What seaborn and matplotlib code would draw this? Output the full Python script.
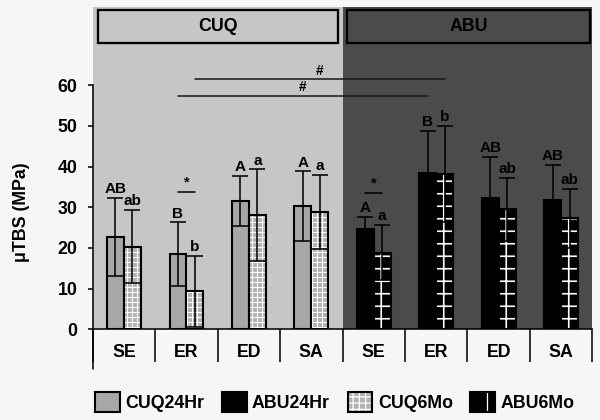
import numpy as np
import pandas as pd
import matplotlib
matplotlib.use("Agg")
import matplotlib.pyplot as plt
import seaborn as sns
from matplotlib.patches import Rectangle, Patch

# ---------------- data ----------------
categories = ["SE", "ER", "ED", "SA"]
groups = ["CUQ", "ABU"]
times = ["24Hr", "6Mo"]

cuq_24hr = [22.7, 18.5, 31.5, 30.3]
cuq_24hr_sd = [9.6, 7.8, 6.2, 8.5]
cuq_6mo = [20.3, 9.3, 28.0, 28.8]
cuq_6mo_sd = [9.0, 8.7, 11.3, 9.1]
abu_24hr = [24.6, 38.5, 32.3, 31.9]
abu_24hr_sd = [3.1, 10.3, 10.1, 8.5]
abu_6mo = [18.8, 38.2, 29.5, 27.3]
abu_6mo_sd = [6.8, 11.8, 7.8, 7.2]

cuq_24hr_letters = ["AB", "B", "A", "A"]
cuq_6mo_letters = ["ab", "b", "a", "a"]
abu_24hr_letters = ["A", "B", "AB", "AB"]
abu_6mo_letters = ["a", "b", "ab", "ab"]

yticks = [0, 10, 20, 30, 40, 50, 60]
legend_labels = ["CUQ24Hr", "ABU24Hr", "CUQ6Mo", "ABU6Mo"]
ylabel = "μTBS (MPa)"

# ---------------- table ----------------
series = {
    ("CUQ", "24Hr"): (cuq_24hr, cuq_24hr_sd, cuq_24hr_letters),
    ("CUQ", "6Mo"): (cuq_6mo, cuq_6mo_sd, cuq_6mo_letters),
    ("ABU", "24Hr"): (abu_24hr, abu_24hr_sd, abu_24hr_letters),
    ("ABU", "6Mo"): (abu_6mo, abu_6mo_sd, abu_6mo_letters),
}
keys = [f"{g} {c}" for g in groups for c in categories]
rows = []
for g in groups:
    for t in times:
        m, s, l = series[(g, t)]
        for c, mv, sv, lv in zip(categories, m, s, l):
            rows.append(dict(key=f"{g} {c}", group=g, cat=c, time=t,
                             value=mv, sd=sv, letter=lv))
df = pd.DataFrame(rows)

# ---------------- style ----------------
sns.set_theme(style="white")
FONT = ["Liberation Sans", "DejaVu Sans"]
plt.rcParams["font.family"] = FONT
plt.rcParams["font.weight"] = "bold"
plt.rcParams["hatch.linewidth"] = 0.6
for k in ["text.color", "axes.labelcolor", "xtick.color", "ytick.color"]:
    plt.rcParams[k] = "black"

LIGHT_BG = "#c6c6c6"
DARK_BG = "#4b4b4b"
CUQ_BAR = "#a7a7a7"
CUQ6_BAR = "#b2b2b2"
ABU_BAR = "#000000"
FIG_BG = "#f6f6f6"
LW = 0.75

fig = plt.figure(figsize=(4, 2.8), dpi=150, facecolor=FIG_BG)
ax = fig.add_axes([0.1545, 0.216, 0.8327, 0.767])

ax.axvspan(-0.5, 3.5, color=LIGHT_BG, zorder=0, lw=0)
ax.axvspan(3.5, 7.5, color=DARK_BG, zorder=0, lw=0)

sns.barplot(data=df, x="key", y="value", hue="time", order=keys,
            hue_order=times, palette=[CUQ_BAR, CUQ_BAR], width=0.54,
            gap=0, errorbar=None, edgecolor="black", linewidth=1.0,
            legend=False, ax=ax, zorder=2)

bars = {t: list(cont) for t, cont in zip(times, ax.containers)}
centers = {t: [p.get_x() + p.get_width() / 2 for p in bars[t]] for t in times}

for t in times:
    for i, p in enumerate(bars[t]):
        g = groups[i // len(categories)]
        if g == "CUQ":
            fc = CUQ_BAR if t == "24Hr" else CUQ6_BAR
        else:
            fc = ABU_BAR
        p.set_facecolor(fc)
        if t == "6Mo":
            p.set_edgecolor("white")
            p.set_linewidth(0)
            p.set_hatch("+++++" if g == "CUQ" else "++")
            try:
                p.set_hatch_linewidth(0.5 if g == "CUQ" else 0.8)
            except AttributeError:
                pass
            ax.add_patch(Rectangle(p.get_xy(), p.get_width(), p.get_height(),
                                   fill=False, edgecolor="black", lw=1.0,
                                   zorder=2.5))

# error bars and letters
for t in times:
    sub = df[df.time == t].set_index("key").loc[keys]
    ax.errorbar(centers[t], sub["value"], yerr=sub["sd"], fmt="none",
                ecolor="black", elinewidth=LW, capsize=3.8, capthick=LW,
                zorder=4)
    for x, v, s, lt in zip(centers[t], sub["value"], sub["sd"], sub["letter"]):
        ax.annotate(lt, (x, v + s), xytext=(0, 0.8), textcoords="offset points",
                    ha="center", va="bottom", fontsize=7.3, fontweight="bold",
                    color="black", zorder=5)

# significance marks (*) between times within a category
for idx, yv in [(1, 33.7), (4, 33.6)]:
    x0, x1 = centers["24Hr"][idx], centers["6Mo"][idx]
    ax.plot([x0, x1], [yv, yv], color="black", lw=LW, zorder=5)
    ax.text((x0 + x1) / 2, yv + 0.6, "*", ha="center", va="bottom",
            fontsize=7, fontweight="bold", zorder=5)

# '#' marks between materials (ER)
for t, yv in [("6Mo", 61.5), ("24Hr", 57.4)]:
    x0, x1 = centers[t][1], centers[t][5]
    ax.plot([x0, x1], [yv, yv], color="#1a1a1a", lw=LW, zorder=5)
    ax.text((x0 + x1) / 2, yv + 0.4, "#", ha="center", va="bottom",
            fontsize=6.5, fontweight="bold", zorder=5)

# axes limits / spines
ax.set_xlim(-0.5, 7.5)
ax.set_ylim(0, 79.2)
for s in ["top", "right"]:
    ax.spines[s].set_visible(False)
ax.spines["left"].set_bounds(0, 60)
for s in ["left", "bottom"]:
    ax.spines[s].set_color("black")
    ax.spines[s].set_linewidth(LW)
    ax.spines[s].set_zorder(6)

ax.set_yticks(yticks)
ax.set_yticklabels([str(v) for v in yticks])
ax.tick_params(axis="y", length=2.3, width=LW, color="black", pad=5,
               labelsize=8.5, left=True, direction="out", labelcolor="black")

ax.set_xticks(np.arange(-0.5, len(keys), 1.0))
ax.set_xticklabels([])
ax.set_xticks(np.arange(len(keys)), minor=True)
ax.set_xticklabels(categories * len(groups), minor=True)
ax.tick_params(axis="x", which="major", length=16, width=LW, color="black",
               bottom=True, direction="out")
ax.tick_params(axis="x", which="minor", length=0, pad=7, labelsize=8.5,
               labelcolor="black")
ax.plot([-0.5, -0.5], [0, -0.123], color="black", lw=LW, clip_on=False,
        transform=ax.get_xaxis_transform(), zorder=6)
ax.set_xlabel("")

ax.set_ylabel(ylabel, fontsize=8.5, fontweight="bold", color="black")
ax.yaxis.set_label_coords(-0.1255, 0.364)

# group headers
for g, x0, x1, fc in [("CUQ", -0.41, 3.43, LIGHT_BG), ("ABU", 3.57, 7.46, DARK_BG)]:
    ax.add_patch(Rectangle((x0, 70.4), x1 - x0, 8.2, facecolor=fc,
                           edgecolor="black", lw=1.1, zorder=5, clip_on=False))
    ax.text((x0 + x1) / 2, 74.5, g, ha="center", va="center", fontsize=8.5,
            fontweight="bold", color="black", zorder=6)

# legend
h_cuq24 = Patch(facecolor=CUQ_BAR, edgecolor="black", lw=1.0)
h_abu24 = Patch(facecolor=ABU_BAR, edgecolor="black", lw=1.0)
h_cuq6 = (Patch(facecolor=CUQ6_BAR, edgecolor="white", hatch="++++", lw=0),
          Patch(fill=False, edgecolor="black", lw=1.0))
h_abu6 = (Patch(facecolor=ABU_BAR, edgecolor="white", hatch="+", lw=0),
          Patch(fill=False, edgecolor="black", lw=1.0))
leg = fig.legend([h_cuq24, h_abu24, h_cuq6, h_abu6], legend_labels, loc="center",
                 bbox_to_anchor=(0.558, 0.043), ncol=4, frameon=False,
                 handlelength=1.4, handleheight=1.4, handletextpad=0.3,
                 columnspacing=1.0, prop=dict(family=FONT, weight="bold", size=8.5))
for txt in leg.get_texts():
    txt.set_color("black")

fig.savefig("out.png", dpi=150, facecolor=FIG_BG)
